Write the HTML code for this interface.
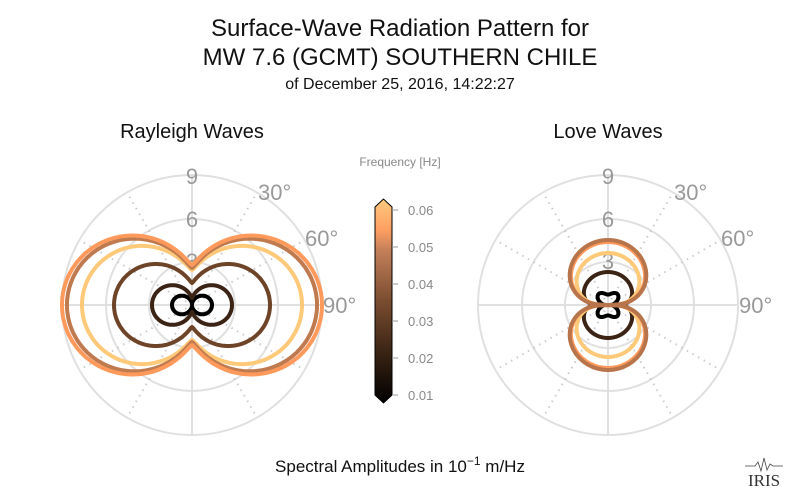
<!DOCTYPE html>
<html><head><meta charset="utf-8"><style>
body{margin:0;background:#fff}
svg{display:block;font-family:"Liberation Sans","DejaVu Sans",sans-serif}
</style></head><body>
<svg id="s" width="800" height="496" viewBox="0 0 800 496">
<defs>
<linearGradient id="cm" x1="0" y1="1" x2="0" y2="0">
<stop offset="0" stop-color="#000"/>
<stop offset="0.25" stop-color="#3a2414"/>
<stop offset="0.5" stop-color="#7a4d30"/>
<stop offset="0.75" stop-color="#c4805a"/>
<stop offset="0.85" stop-color="#ffa062"/>
<stop offset="1" stop-color="#ffc97f"/>
</linearGradient>
</defs>
<text x="400" y="36" font-size="24" text-anchor="middle" fill="#111">Surface-Wave Radiation Pattern for</text>
<text x="400" y="65" font-size="24" text-anchor="middle" fill="#111">MW 7.6 (GCMT) SOUTHERN CHILE</text>
<text x="400" y="89" font-size="16" text-anchor="middle" fill="#111">of December 25, 2016, 14:22:27</text>
<text x="192" y="138" font-size="20" text-anchor="middle" fill="#111">Rayleigh Waves</text>
<text x="608" y="138" font-size="20" text-anchor="middle" fill="#111">Love Waves</text>
<g id="grids"></g>
<g id="curves"></g>
<text x="400" y="166" font-size="12" text-anchor="middle" fill="#888">Frequency [Hz]</text>
<path d="M375,207 L383.5,199 L392,207 L392,395 L383.5,403 L375,395 Z" fill="url(#cm)" stroke="#000" stroke-width="1"/>
<g stroke="#999" stroke-width="1">
<line x1="392" y1="210" x2="398" y2="210"/><line x1="392" y1="247" x2="398" y2="247"/><line x1="392" y1="284" x2="398" y2="284"/><line x1="392" y1="321" x2="398" y2="321"/><line x1="392" y1="358" x2="398" y2="358"/><line x1="392" y1="395" x2="398" y2="395"/>
</g>
<g font-size="13" fill="#888">
<text x="408" y="215">0.06</text><text x="408" y="252">0.05</text><text x="408" y="289">0.04</text><text x="408" y="326">0.03</text><text x="408" y="363">0.02</text><text x="408" y="400">0.01</text>
</g>
<text x="400" y="472" font-size="17" text-anchor="middle" fill="#111">Spectral Amplitudes in 10<tspan dy="-7" font-size="12">−1</tspan><tspan dy="7"> m/Hz</tspan></text>
<text x="764" y="486" font-size="17" text-anchor="middle" fill="#333" font-family="Liberation Serif,serif">IRIS</text>
<path d="M745,466 L755,466 L758,462 L761,471 L764,458 L767,470 L770,464 L773,466 L783,466" fill="none" stroke="#444" stroke-width="0.8"/>
</svg>
<script>
const NS="http://www.w3.org/2000/svg";
const g=document.getElementById('grids'),cg=document.getElementById('curves');
function el(p,t,a){const e=document.createElementNS(NS,t);for(const k in a)e.setAttribute(k,a[k]);p.appendChild(e);return e;}
function grid(cx,cy){
 [43,86,130].forEach(r=>el(g,'circle',{cx,cy,r,fill:'none',stroke:'#e0e0e0','stroke-width':2}));
 for(let a=0;a<360;a+=30){const t=a*Math.PI/180;const solid=a%90==0;
  el(g,'line',{x1:cx,y1:cy,x2:cx+130*Math.sin(t),y2:cy-130*Math.cos(t),stroke:solid?'#e0e0e0':'#ccc','stroke-width':2,'stroke-dasharray':solid?'':'1.5 5'});}
 const lab=[[cx,184,'9','middle'],[cx,227,'6','middle'],[cx,269,'3','middle'],[cx+66,200,'30°','start'],[cx+113,246,'60°','start'],[cx+131,313,'90°','start']];
 lab.forEach(l=>{const t=el(g,'text',{x:l[0],y:l[1],'font-size':22,fill:'#999','text-anchor':l[3]});t.textContent=l[2];});
}
grid(192,305);grid(608,305);
function curve(cx,cy,f,col,w){let d='';for(let i=0;i<=360;i++){const t=i*Math.PI/180;const r=f(t);d+=(i?'L':'M')+(cx+r*Math.sin(t)).toFixed(1)+','+(cy-r*Math.cos(t)).toFixed(1);}
 el(cg,'path',{d:d+'Z',fill:'none',stroke:col,'stroke-width':w,'stroke-linejoin':'round'});}
function ray(R,top){return t=>{const s=Math.abs(Math.sin(t));return top+(R-top)*Math.pow(s,1.3);};}
[[20,1,'#000'],[40,7,'#3b2415'],[78,22,'#6e4428'],[110,35,'#ffc97a'],[125,37,'#c07a4f'],[130,40,'#ff9a5c']].forEach(c=>curve(192,305,ray(c[0],c[1]),c[2],4));
function love(R,p){return t=>R*Math.pow(Math.abs(Math.cos(t)),p);}
curve(608,305,t=>{const c=Math.abs(Math.cos(t)),s=Math.abs(Math.sin(t));return 16*Math.pow(c,0.35)*(0.65+1.4*s*s*c*c);},'#000',4);
curve(608,305,love(33,0.25),'#3b2415',4);
curve(608,305,love(52,0.55),'#ffc97a',4);
curve(608,305,love(63,0.6),'#ff9a5c',4);
curve(608,305,love(65,0.6),'#b8744a',4);
</script>
</body></html>
